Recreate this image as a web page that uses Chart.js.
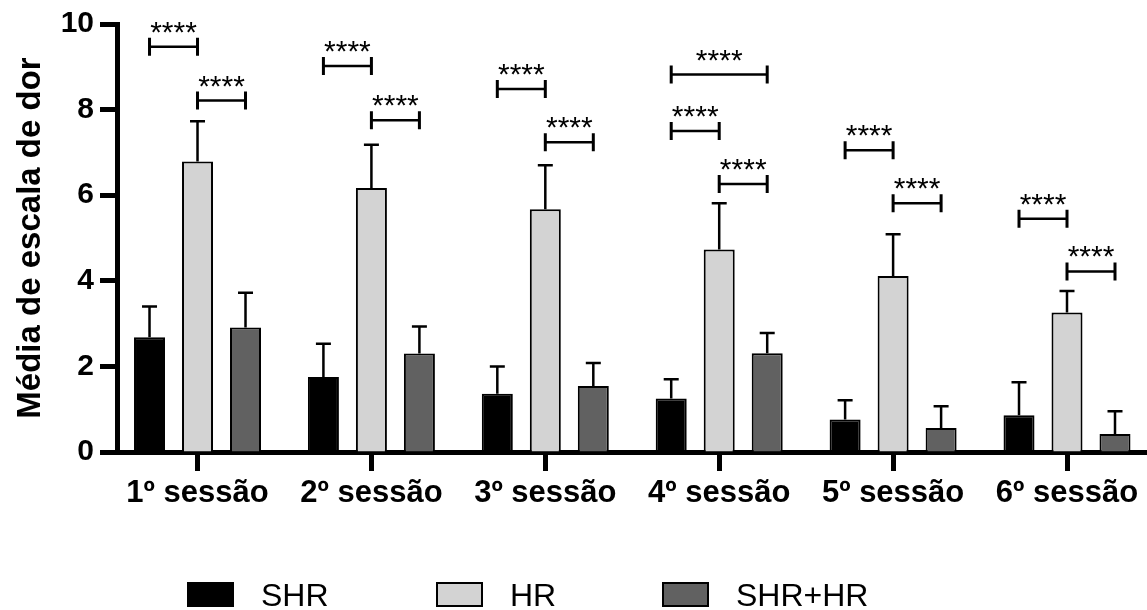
<!DOCTYPE html>
<html>
<head>
<meta charset="utf-8">
<script src="https://cdn.jsdelivr.net/npm/chart.js@4.4.1/dist/chart.umd.min.js"></script>
<style>
  body { margin: 0; background: #fff; }
  #wrap { width: 1147px; height: 610px; }
</style>
</head>
<body>
<div id="wrap"><canvas id="myChart" width="1147" height="610"></canvas></div>
<script>
// sessions and series
var sessions = ['1º sessão', '2º sessão', '3º sessão', '4º sessão', '5º sessão', '6º sessão'];
var seriesNames = ['SHR', 'HR', 'SHR+HR'];

var shrMean = [2.68, 1.75, 1.36, 1.25, 0.76, 0.86];
var shrErr = [0.72, 0.78, 0.64, 0.45, 0.45, 0.77];
var hrMean = [6.79, 6.17, 5.67, 4.73, 4.11, 3.26];
var hrErr = [0.94, 1.01, 1.03, 1.08, 0.98, 0.50];
var bothMean = [2.91, 2.30, 1.54, 2.31, 0.56, 0.42];
var bothErr = [0.81, 0.63, 0.54, 0.47, 0.51, 0.53];

var yTicks = [0, 2, 4, 6, 8, 10];

// significance brackets: [session, from series, to series, height]
var brackets = [
    [0, 0, 1, 9.47], [0, 1, 2, 8.21],
    [1, 0, 1, 9.02], [1, 1, 2, 7.75],
    [2, 0, 1, 8.48], [2, 1, 2, 7.24],
    [3, 0, 2, 8.82], [3, 0, 1, 7.50], [3, 1, 2, 6.26],
    [4, 0, 1, 7.05], [4, 1, 2, 5.81],
    [5, 0, 1, 5.45], [5, 1, 2, 4.22]
];
var starLabel = '****';

var fills = ['#000000', '#d3d3d3', '#616161'];
var errs = [shrErr, hrErr, bothErr];

function points(arr) {
    return arr.map(function (v, i) { return { x: i, y: v }; });
}

// error bars (upward only)
var errorBars = {
    id: 'errorBars',
    afterDatasetsDraw: function (chart) {
        var ctx = chart.ctx, y = chart.scales.y;
        ctx.save();
        ctx.strokeStyle = '#000';
        ctx.lineWidth = 2.5;
        chart.data.datasets.forEach(function (ds, d) {
            chart.getDatasetMeta(d).data.forEach(function (el, i) {
                var top = y.getPixelForValue(ds.data[i].y + errs[d][i]);
                ctx.beginPath();
                ctx.moveTo(el.x, el.y);
                ctx.lineTo(el.x, top);
                ctx.moveTo(el.x - 7.5, top);
                ctx.lineTo(el.x + 7.5, top);
                ctx.stroke();
            });
        });
        ctx.restore();
    }
};

// significance brackets with stars
var sigBrackets = {
    id: 'sigBrackets',
    afterDatasetsDraw: function (chart) {
        var ctx = chart.ctx, y = chart.scales.y;
        ctx.save();
        ctx.strokeStyle = '#000';
        ctx.fillStyle = '#000';
        ctx.font = '30px "Liberation Sans", Arial, sans-serif';
        ctx.textAlign = 'center';
        ctx.textBaseline = 'alphabetic';
        brackets.forEach(function (b) {
            var x1 = chart.getDatasetMeta(b[1]).data[b[0]].x,
                x2 = chart.getDatasetMeta(b[2]).data[b[0]].x,
                py = y.getPixelForValue(b[3]);
            ctx.lineWidth = 2.5;
            ctx.beginPath();
            ctx.moveTo(x1, py);
            ctx.lineTo(x2, py);
            ctx.stroke();
            ctx.lineWidth = 3;
            ctx.beginPath();
            ctx.moveTo(x1, py - 9);
            ctx.lineTo(x1, py + 9);
            ctx.moveTo(x2, py - 9);
            ctx.lineTo(x2, py + 9);
            ctx.stroke();
            ctx.fillText(starLabel, (x1 + x2) / 2, py - 5);
        });
        ctx.restore();
    }
};

// legend under the chart
var bottomLegend = {
    id: 'bottomLegend',
    afterDraw: function (chart) {
        var ctx = chart.ctx;
        var boxX = [188, 437, 663];
        ctx.save();
        ctx.font = '32px "Liberation Sans", Arial, sans-serif';
        ctx.textBaseline = 'alphabetic';
        ctx.textAlign = 'left';
        seriesNames.forEach(function (name, i) {
            ctx.fillStyle = fills[i];
            ctx.fillRect(boxX[i], 583, 45, 23);
            ctx.lineWidth = 2;
            ctx.strokeStyle = '#000';
            ctx.strokeRect(boxX[i], 583, 45, 23);
            ctx.fillStyle = '#000';
            ctx.fillText(name, boxX[i] + 73, 606);
        });
        ctx.restore();
    }
};

var ctx = document.getElementById('myChart').getContext('2d');
var chart = new Chart(ctx, {
    type: 'bar',
    data: {
        datasets: [
            { label: seriesNames[0], data: points(shrMean), backgroundColor: fills[0], borderColor: '#000', borderWidth: 2 },
            { label: seriesNames[1], data: points(hrMean), backgroundColor: fills[1], borderColor: '#000', borderWidth: 2 },
            { label: seriesNames[2], data: points(bothMean), backgroundColor: fills[2], borderColor: '#000', borderWidth: 2 }
        ]
    },
    options: {
        responsive: false,
        animation: false,
        devicePixelRatio: 1,
        categoryPercentage: 0.828,
        barPercentage: 0.646,
        layout: { padding: { top: 22, right: 0, bottom: 83, left: 0 } },
        plugins: {
            legend: { display: false },
            tooltip: { enabled: false }
        },
        scales: {
            x: {
                type: 'linear',
                min: -0.463,
                max: 5.46,
                offset: false,
                z: 1,
                afterBuildTicks: function (s) {
                    s.ticks = sessions.map(function (_, i) { return { value: i }; });
                },
                afterFit: function (s) { s.height = 75; },
                ticks: {
                    autoSkip: false,
                    maxRotation: 0,
                    padding: 4,
                    color: '#000',
                    font: { family: '"Liberation Sans", Arial, sans-serif', size: 31, weight: 'bold' },
                    callback: function (v) { return sessions[v]; }
                },
                grid: { offset: false, drawOnChartArea: false, drawTicks: true, tickLength: 19, tickWidth: 5, tickColor: '#000' },
                border: { display: true, width: 5, color: '#000' }
            },
            y: {
                min: 0,
                max: 10,
                z: 1,
                afterBuildTicks: function (s) {
                    s.ticks = yTicks.map(function (v) { return { value: v }; });
                },
                afterFit: function (s) { s.width = 117; },
                ticks: {
                    padding: 6,
                    color: '#000',
                    font: { family: '"Liberation Sans", Arial, sans-serif', size: 30, weight: 'bold' }
                },
                grid: { drawOnChartArea: false, drawTicks: true, tickLength: 17, tickWidth: 5, tickColor: '#000' },
                border: { display: true, width: 5, color: '#000' },
                title: {
                    display: true,
                    text: 'Média de escala de dor',
                    color: '#000',
                    padding: { top: 11, bottom: 0 },
                    font: { family: '"Liberation Sans", Arial, sans-serif', size: 33, weight: 'bold' }
                }
            }
        }
    },
    plugins: [errorBars, sigBrackets, bottomLegend]
});
</script>
</body>
</html>
